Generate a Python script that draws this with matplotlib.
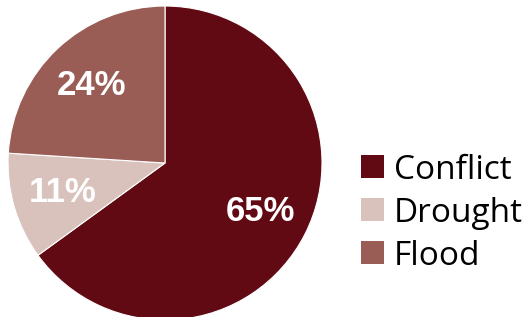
import matplotlib.pyplot as plt
from matplotlib.patches import Patch

plt.rcParams['font.family'] = ['Liberation Sans', 'DejaVu Sans']

# 数据
categories = ['Conflict', 'Drought', 'Flood']
shares = [65, 11, 24]
colors = ['#620A14', '#D9C2BC', '#9A5D55']

fig = plt.figure(figsize=(5.26, 3.17), dpi=100)
ax = fig.add_axes([0.0152, -0.0095, 0.597, 0.9905])

wedges, texts, autotexts = ax.pie(
    shares, colors=colors, startangle=90, counterclock=False,
    autopct='%d%%', pctdistance=0.68,
    wedgeprops=dict(edgecolor='white', linewidth=0.8),
    textprops=dict(color='white', fontsize=25, fontweight='bold'))
ax.set_xlim(-1, 1)
ax.set_ylim(-1, 1)

# 图例
handles = [Patch(facecolor=c, edgecolor='none') for c in colors]
fig.legend(handles, categories, loc='center left', bbox_to_anchor=(0.655, 0.328),
           frameon=False, prop={'family': 'Open Sans', 'size': 24},
           handlelength=0.68, handleheight=0.68,
           handletextpad=0.3, labelspacing=0.3, borderpad=0)

fig.savefig('out.png', dpi=100)
